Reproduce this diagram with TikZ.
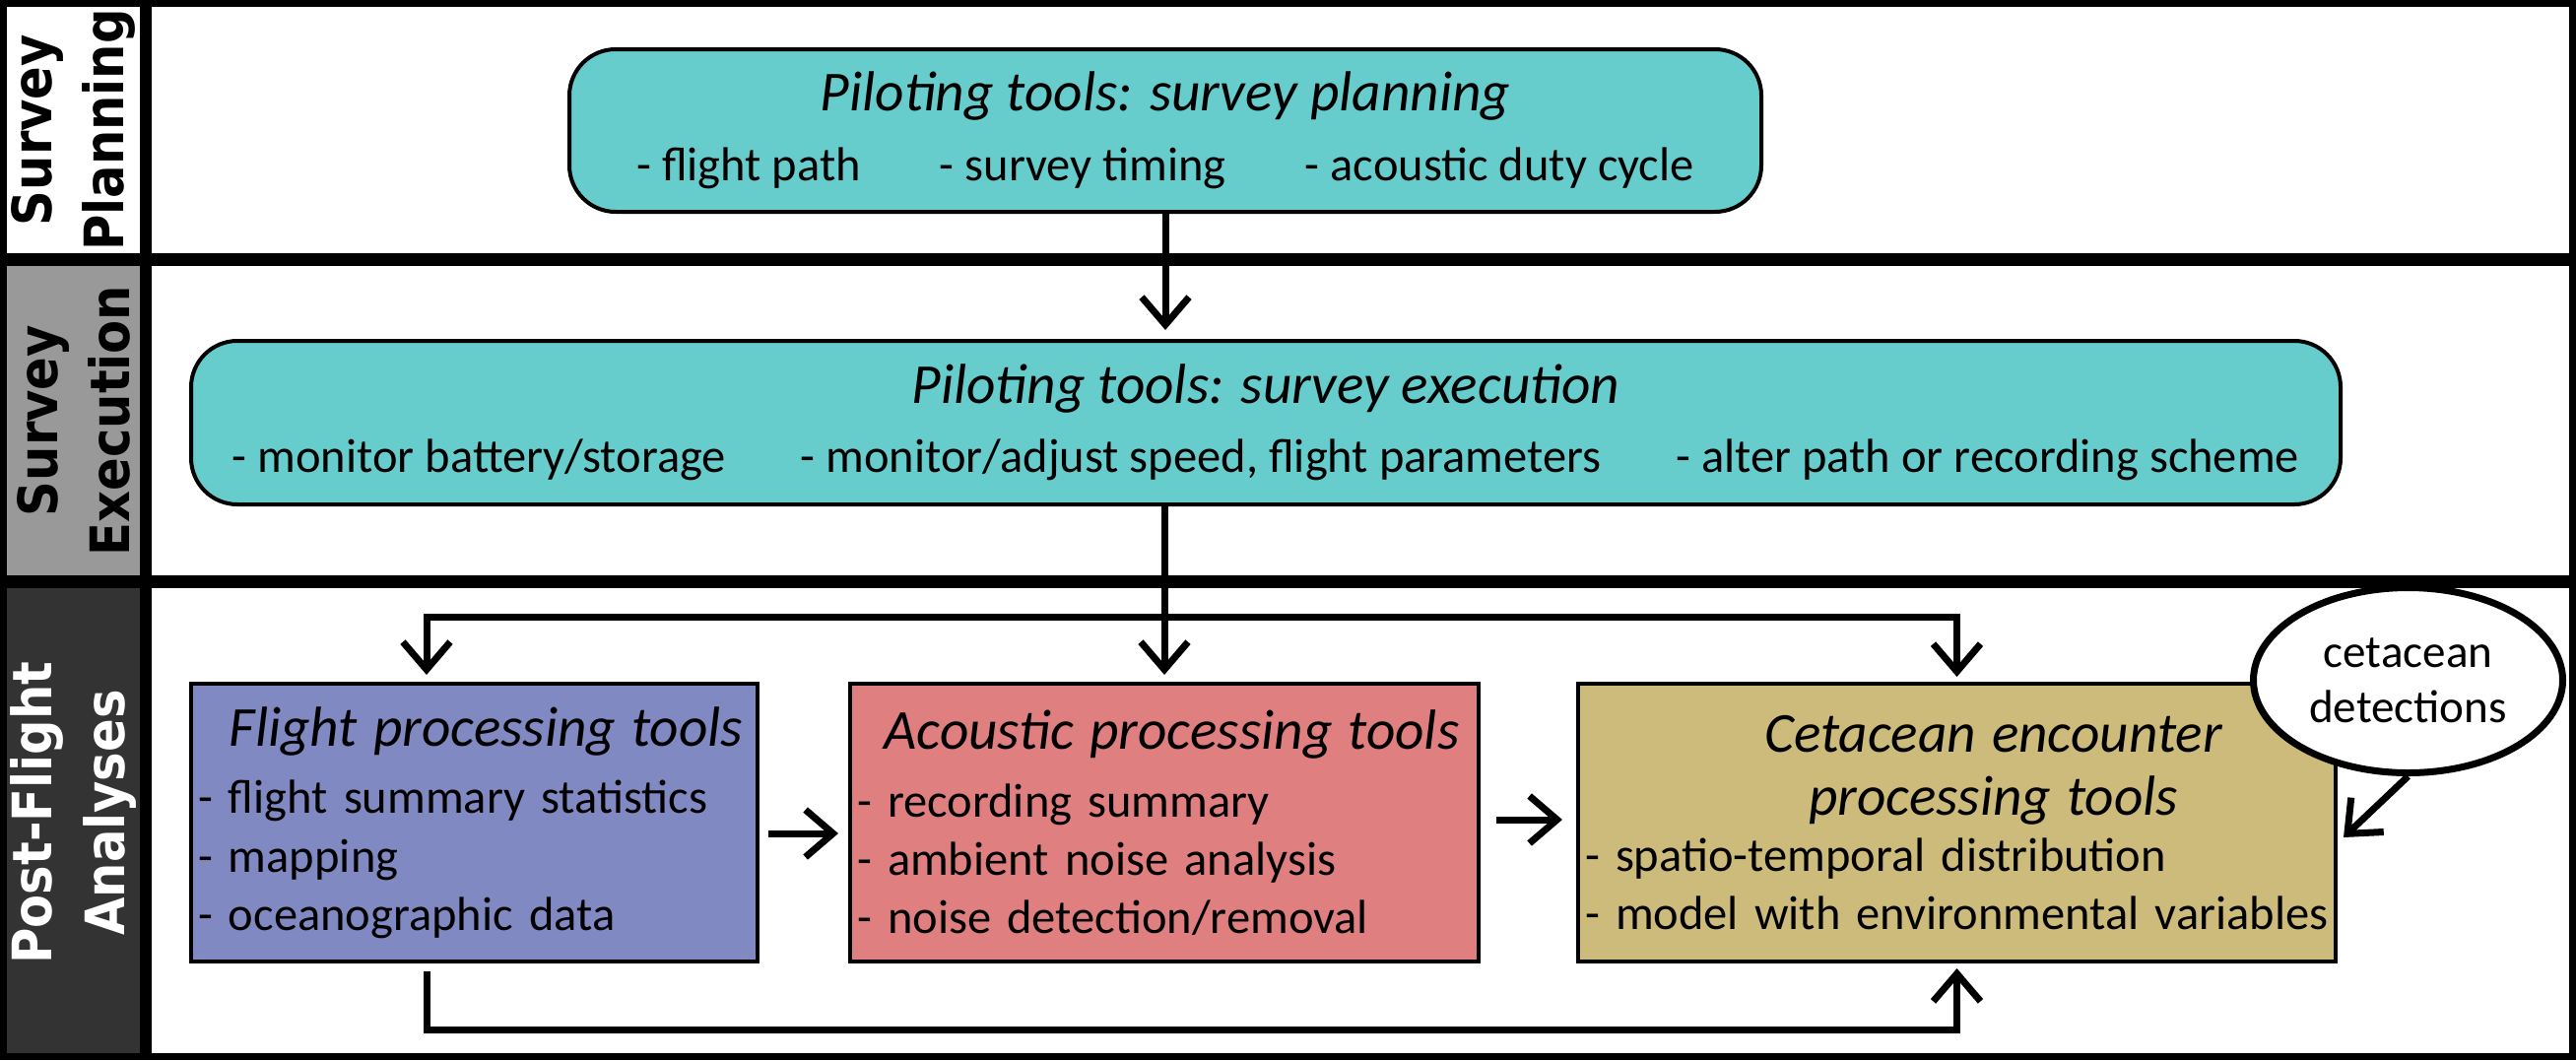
\documentclass[tikz,border=0pt]{standalone}
\usepackage{fontspec}
\setmainfont{Carlito}
\newfontfamily\lanefont{DejaVu Sans}[FakeStretch=0.9]
\usetikzlibrary{positioning,calc,arrows.meta,shapes.geometric}
\definecolor{pilotteal}{HTML}{66CCCC}
\definecolor{flightblue}{HTML}{8089C2}
\definecolor{acousticred}{HTML}{DF7F7F}
\definecolor{cetaceantan}{HTML}{CCBB7A}
\definecolor{lanegray}{HTML}{999999}
\definecolor{lanedark}{HTML}{333333}
\newcommand{\boxtitle}[1]{{\fontsize{16.3pt}{19pt}\selectfont\itshape #1}}
\newcommand{\proctitle}[2]{\makebox[\linewidth][c]{\hspace*{#1}\boxtitle{#2}}}

\begin{document}
\begin{tikzpicture}[
		barb/.tip={Straight Barb[length=2.8mm,width=4.8mm,sharp]},
		flow/.style={line width=0.07cm, -barb},
		bodytext/.style={font=\fontsize{13.8pt}{16.8pt}\selectfont},
		pilotbox/.style={bodytext, draw=black, line width=0.04cm, fill=pilotteal, rounded corners=0.47cm, align=center, inner sep=0pt},
		procbox/.style={bodytext, draw=black, line width=0.04cm, minimum height=2.82cm, inner xsep=0.07cm, inner ysep=0pt, align=left},
		lanelabel/.style={rotate=90, align=center, inner sep=0pt, font=\lanefont\bfseries\fontsize{15.7pt}{20.8pt}\selectfont}
	]
		\useasboundingbox (0,0) rectangle (26.15,-10.76);
		\fill[white] (0,0) rectangle (26.15,-10.76);
		\fill[lanegray] (0.07,-2.70) rectangle (1.42,-5.84);
		\fill[lanedark] (0.07,-5.97) rectangle (1.42,-10.69);
		\draw[line width=0.07cm] (0.035,-0.035) rectangle (26.115,-10.725);
		\draw[line width=0.12cm] (1.48,0) -- (1.48,-10.76);
		\draw[line width=0.13cm] (0,-2.635) -- (26.15,-2.635);
		\draw[line width=0.13cm] (0,-5.905) -- (26.15,-5.905);
		
		\node[lanelabel] (planlbl) at (0.745,-1.32) {Survey\\Planning};
		\node[lanelabel] (execlbl) at (0.745,-4.27) {Survey\\Execution};
		\node[lanelabel, text=white] (postlbl) at (0.745,-8.25) {Post-Flight\\Analyses};
		
		\node[pilotbox, minimum width=12.10cm, minimum height=1.65cm] (plan) at (11.83,-1.325) {\boxtitle{Piloting tools: survey planning}\\[3.4pt] - flight path\hspace{8mm}- survey timing\hspace{8mm}- acoustic duty cycle};
		\node[pilotbox, minimum width=21.82cm, minimum height=1.66cm] (exec) at (12.85,-4.29) {\boxtitle{Piloting tools: survey execution}\\[3pt] - monitor battery/storage\hspace{7.6mm}- monitor/adjust speed, flight parameters\hspace{7.6mm}- alter path or recording scheme};
		
		\node[procbox, fill=flightblue, text width=5.61cm] (flight) at (4.815,-8.35) {\proctitle{0.24cm}{Flight processing tools}\\[2.7pt] - flight summary statistics\\ - mapping\\ - oceanographic data};
		\node[procbox, fill=acousticred, text width=6.24cm] (acoustic) at (11.82,-8.35) {\proctitle{0.15cm}{Acoustic processing tools}\\[2.7pt] - recording summary\\ - ambient noise analysis\\ - noise detection/removal};
		\node[procbox, fill=cetaceantan, text width=7.55cm] (cetacean) at (19.865,-8.35) {\proctitle{0.74cm}{Cetacean encounter}\\[1.5pt] \proctitle{0.74cm}{processing tools}\\[-0.5pt] - spatio-temporal distribution\\ - model with environmental variables};
		\node[ellipse, draw=black, line width=0.07cm, fill=white, minimum width=3.14cm, minimum height=1.88cm, inner sep=0pt, align=center, font=\fontsize{13.4pt}{16pt}\selectfont] (detect) at (24.445,-6.905) {cetacean\\detections};
		
		\coordinate (branch) at (0,-6.26);
		\coordinate (fltop) at ([xshift=-4.85mm]flight.north);
		\coordinate (flbot) at ([xshift=-4.85mm]flight.south);
		\draw[flow, shorten >=0.09cm] (plan.south) -- (plan.south |- exec.north);
		\draw[flow, shorten >=0.07cm] (exec.south -| acoustic.north) -- (acoustic.north);
		\draw[flow, barb-barb, shorten <=0.07cm, shorten >=0.05cm] (fltop) -- (fltop |- branch) -- (cetacean.north |- branch) -- (cetacean.north);
		\draw[flow, shorten <=0.08cm, shorten >=0.05cm] (flbot) -- ++(0,-0.67) -| (cetacean.south);
		\draw[flow, shorten <=0.09cm, shorten >=0.10cm] ([yshift=-1.1mm]flight.east) -- ([yshift=-1.1mm]acoustic.west);
		\draw[flow, shorten <=0.16cm, shorten >=0.14cm] ([yshift=0.3mm]acoustic.east) -- ([yshift=0.3mm]cetacean.west);
		\draw[flow] (detect.south) -- ([xshift=0.06cm,yshift=-1.5mm]cetacean.east);
	\end{tikzpicture}
\end{document}
